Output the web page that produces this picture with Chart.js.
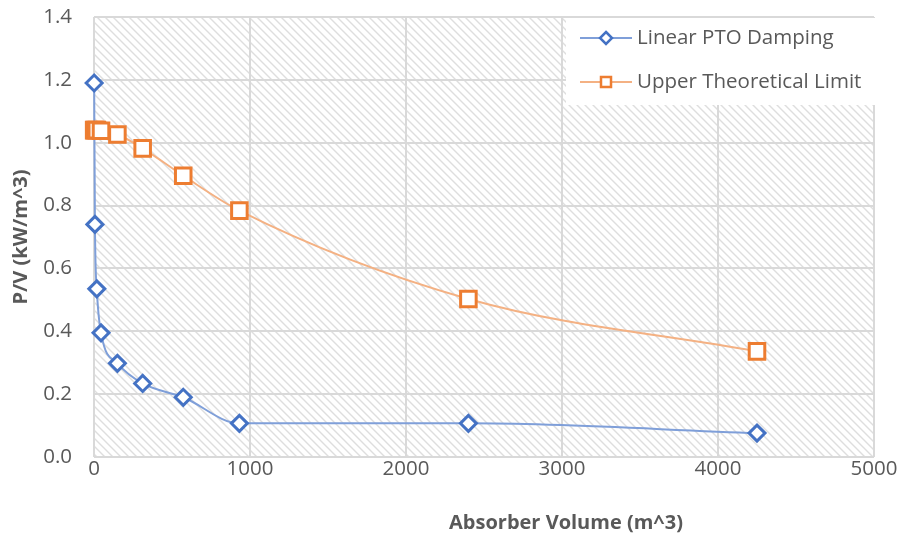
<!DOCTYPE html>
<html><head><meta charset="utf-8">
<script src="https://cdn.jsdelivr.net/npm/chart.js@4"></script>
<style>html,body{margin:0;padding:0;background:#fff}#wrap{width:903px;height:536px}</style>
</head><body><div id="wrap"><canvas id="c" width="903" height="536"></canvas></div>
<script>
const seriesNames = ['Linear PTO Damping', 'Upper Theoretical Limit'];
const volumes = [1, 6, 18, 45, 150, 312, 572, 932, 2400, 4250];
const linearPTO = [1.19, 0.74, 0.535, 0.395, 0.298, 0.234, 0.19, 0.107, 0.107, 0.076];
const upperLimit = [1.04, 1.04, 1.04, 1.038, 1.026, 0.982, 0.895, 0.784, 0.503, 0.336];
const xTicks = [0, 1000, 2000, 3000, 4000, 5000];
const yTicks = [0, 0.2, 0.4, 0.6, 0.8, 1.0, 1.2, 1.4];
const xTitle = 'Absorber Volume (m^3)';
const yTitle = 'P/V (kW/m^3)';

const BLUE = '#4472C4', ORANGE = '#ED7D31';
const FONT = "'Open Sans', 'Liberation Sans', sans-serif";

function makePattern(ctx){
  const n = 8;
  const p = document.createElement('canvas'); p.width = n; p.height = n;
  const g = p.getContext('2d');
  g.fillStyle = '#fff'; g.fillRect(0,0,n,n);
  g.strokeStyle = '#dedede'; g.lineWidth = 1.4;
  g.beginPath();
  for (let k = -n; k <= n; k += n) { g.moveTo(k-1,-1); g.lineTo(k+n+1,n+1); }
  g.stroke();
  return ctx.createPattern(p, 'repeat');
}

const bgPlugin = {
  id: 'hatch',
  beforeDraw(chart){
    const {ctx, chartArea:a} = chart;
    ctx.save();
    ctx.fillStyle = makePattern(ctx);
    ctx.fillRect(a.left, a.top, a.right-a.left, a.bottom-a.top);
    ctx.restore();
  }
};

const legendPlugin = {
  id: 'customLegend',
  afterDraw(chart){
    const ctx = chart.ctx;
    const x0 = 566, y0 = 18, w = 312, h = 87;
    ctx.save();
    ctx.fillStyle = '#fff'; ctx.fillRect(x0, y0, w, h);
    const items = [
      {name: seriesNames[0], color: BLUE, line: '#7f9fd9', style: 'diamond'},
      {name: seriesNames[1], color: ORANGE, line: '#f4b183', style: 'square'}
    ];
    items.forEach((it, i) => {
      const cy = 38 + i*44;
      ctx.strokeStyle = it.line; ctx.lineWidth = 2;
      ctx.beginPath(); ctx.moveTo(580, cy); ctx.lineTo(632, cy); ctx.stroke();
      ctx.fillStyle = '#fff'; ctx.strokeStyle = it.color; ctx.lineWidth = 2.5;
      ctx.beginPath();
      if (it.style === 'diamond') {
        ctx.moveTo(606, cy-6); ctx.lineTo(612, cy); ctx.lineTo(606, cy+6); ctx.lineTo(600, cy); ctx.closePath();
      } else {
        ctx.rect(601, cy-5, 10, 10);
      }
      ctx.fill(); ctx.stroke();
      ctx.fillStyle = '#595959'; ctx.font = '20.5px ' + FONT; ctx.textBaseline = 'middle';
      ctx.fillText(it.name, 637, cy);
    });
    ctx.fillStyle = '#595959'; ctx.font = 'bold 20px ' + FONT;
    ctx.textAlign = 'center'; ctx.textBaseline = 'middle';
    ctx.fillText(xTitle, 566, 523);
    ctx.restore();
  }
};

new Chart(document.getElementById('c'), {
  type: 'scatter',
  data: {
    datasets: [
      {
        label: seriesNames[1],
        data: volumes.map((v,i)=>({x:v, y:upperLimit[i]})),
        showLine: true, cubicInterpolationMode: 'monotone', clip: false,
        borderColor: '#f4b183', borderWidth: 2,
        pointStyle: 'rect', pointRadius: 11, pointBorderWidth: 3,
        pointBorderColor: ORANGE, pointBackgroundColor: '#fff'
      },
      {
        label: seriesNames[0],
        data: volumes.map((v,i)=>({x:v, y:linearPTO[i]})),
        showLine: true, cubicInterpolationMode: 'monotone', clip: false,
        borderColor: '#7f9fd9', borderWidth: 2,
        pointStyle: 'rectRot', pointRadius: 8, pointBorderWidth: 3,
        pointBorderColor: BLUE, pointBackgroundColor: '#fff'
      }
    ]
  },
  options: {
    responsive: false, animation: false,
    layout: {padding: {top: 17, right: 29, left: 0, bottom: 0}},
    plugins: {legend: {display: false}, tooltip: {enabled: false}},
    scales: {
      x: {
        type: 'linear', min: 0, max: 5000,
        afterBuildTicks(s){ s.ticks = xTicks.map(v=>({value:v})); },
        afterFit(s){ s.height = 79; s.paddingLeft = 0; s.paddingRight = 0; },
        grid: {color: '#d9d9d9', lineWidth: 2, drawTicks: false},
        border: {display: false},
        ticks: {color: '#595959', font: {size: 20.5, family: FONT}, padding: 0, maxRotation: 0, callback: v => String(v)},
        title: {display: false}
      },
      y: {
        type: 'linear', min: 0, max: 1.4,
        afterBuildTicks(s){ s.ticks = yTicks.map(v=>({value:v})); },
        afterFit(s){ s.width = 94; s.paddingTop = 0; s.paddingBottom = 0; },
        grid: {color: '#d9d9d9', lineWidth: 2, drawTicks: false},
        border: {display: false},
        ticks: {color: '#595959', font: {size: 20.5, family: FONT}, padding: 22, callback: v => v.toFixed(1)},
        title: {display: true, text: yTitle, color: '#595959', font: {size: 20, weight: 'bold', family: FONT}, padding: {top: 9, bottom: 0}}
      }
    }
  },
  plugins: [bgPlugin, legendPlugin]
});
</script></body></html>
